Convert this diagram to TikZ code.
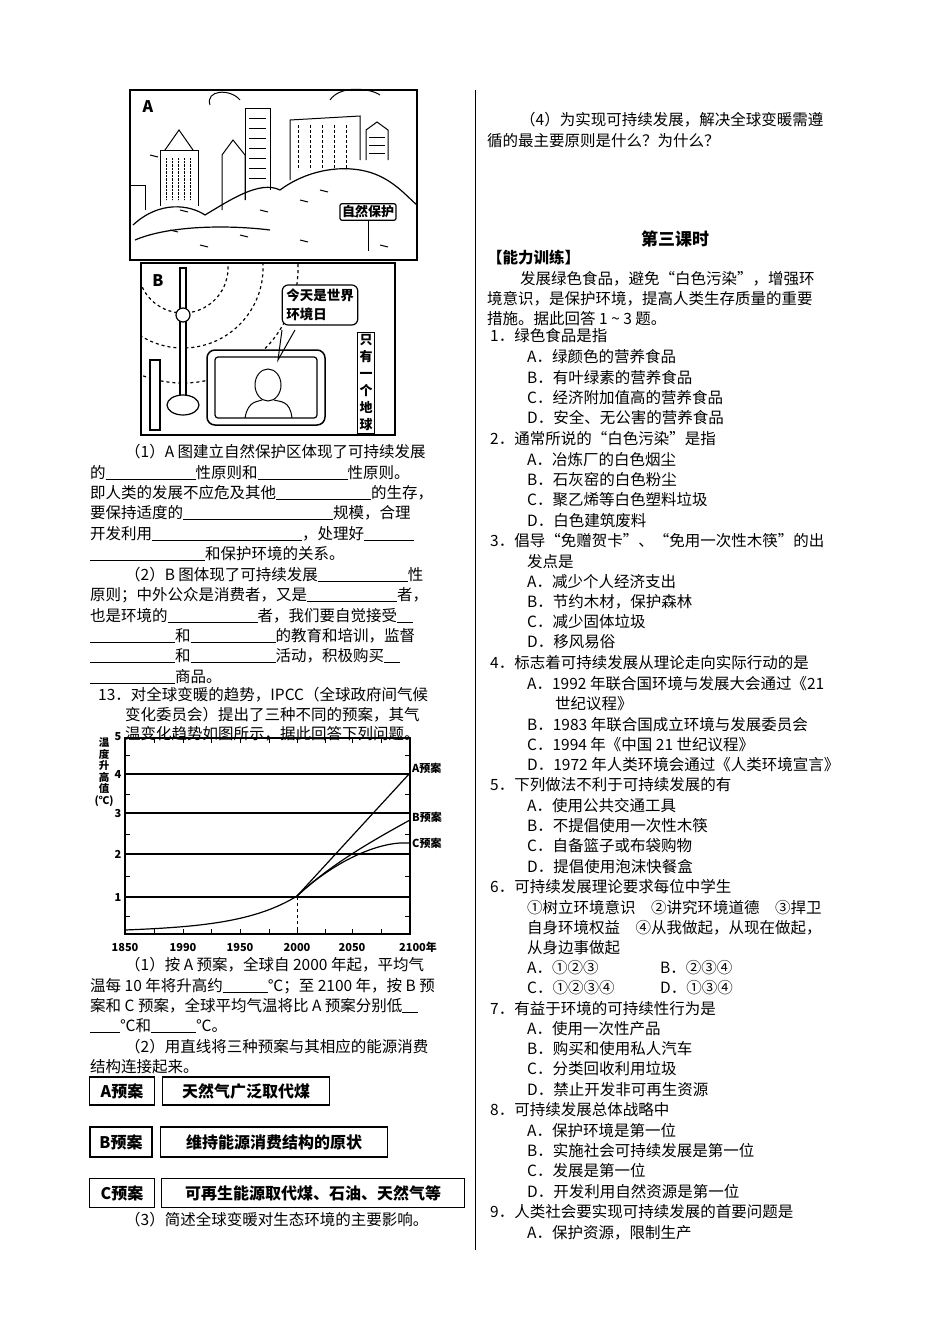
\documentclass[tikz,border=0pt]{standalone}
\usepackage{fontspec}
\setmainfont{Noto Sans CJK SC}
\newcounter{tl}
\newcommand{\T}[3]{\stepcounter{tl}\node[txt] (t\thetl) at (#1,#2+5) {#3};}
\newcommand{\bl}[1]{\rule[-2pt]{#1pt}{0.6pt}}
\begin{document}
\begin{tikzpicture}[x=1pt,y=-1pt,
 txt/.style={anchor=base west,inner sep=0pt,font=\fontsize{15.5}{18}\selectfont},
 sm/.style={font=\fontsize{11}{12}\selectfont\bfseries,inner sep=0pt},
 box/.style={draw,line width=1.2pt,inner sep=0pt,font=\fontsize{16}{18}\selectfont\bfseries},
 frame/.style={draw,line width=1.5pt}]
\useasboundingbox (0,0) rectangle (950,1344);
% divider
\draw (475,90) -- (475,1250);
% ===== Picture A =====
\draw[frame] (130,90) rectangle (417,260);
\node[font=\fontsize{16}{16}\selectfont\bfseries] (la) at (148,107) {A};
\draw[line width=1pt] (160,206) -- (160,150) -- (198,150) -- (198,206);
\draw[line width=1pt] (165,150) -- (179,130) -- (193,150);
\foreach \x in {166,172,178,184,190}{\draw[densely dotted] (\x,158) -- (\x,200);}
\draw[line width=1pt] (222,210) -- (222,155) -- (233,140) -- (245,155) -- (245,200);
\draw[line width=1pt] (245,200) -- (245,108) -- (270,108) -- (270,190);
\foreach \y in {118,128,138,148,158,168,178}{\draw (249,\y) -- (266,\y);}
\draw[line width=1pt] (290,180) -- (290,120) -- (360,116) -- (360,160);
\foreach \x in {298,310,322,334,346}{\draw[densely dashed] (\x,125) -- (\x,170);}
\draw[line width=1pt] (366,160) -- (366,130) -- (377,122) -- (388,130) -- (388,160);
\foreach \y in {137,145,153}{\draw (369,\y) -- (385,\y);}
\draw[line width=1pt] (130,185) -- (145,185) -- (145,210);
\draw[line width=1pt] (210,105) .. controls (205,90) and (230,88) .. (240,100);
\draw[line width=1pt] (330,100) .. controls (340,85) and (370,88) .. (380,95);
\draw[line width=1.2pt] (133,225) .. controls (160,200) and (190,205) .. (205,215) .. controls (230,200) and (260,180) .. (280,190) .. controls (300,175) and (330,165) .. (360,170) .. controls (390,175) and (405,195) .. (417,205);
\draw[line width=1.2pt] (135,240) .. controls (170,225) and (230,225) .. (270,230);
\foreach \x/\y in {150/155,170/230,260/210,300/200,320/190,350/215,380/245,200/245,240/235,300/240,180/210}{\draw[line width=1pt] (\x,\y) -- ++(8,2);}
\node[draw,line width=1.2pt,rounded corners=2pt,font=\fontsize{13}{14}\selectfont\bfseries,inner sep=2pt] (sign) at (368,212) {自然保护};
\draw[line width=1pt] (sign.south) -- ++(0,30);
% ===== Picture B =====
\draw[frame] (141,263) rectangle (395,435);
\node[font=\fontsize{16}{16}\selectfont\bfseries] (lb) at (158,281) {B};
\begin{scope}
\clip (141,263) rectangle (395,435);
\foreach \r in {45,80,115}{\draw[dashed,line width=1.2pt] (183,268) ++(170:\r) arc (170:-70:\r);}
\end{scope}
\draw[line width=1.2pt,fill=white] (180,268) -- (180,410) -- (186,410) -- (186,268) -- cycle;
\draw[line width=1.2pt,fill=white] (183,315) circle (7);
\draw[line width=1.2pt,fill=white] (183,405) ellipse (16 and 10);
\draw[line width=1.2pt,fill=white] (150,360) -- (150,430) -- (160,430) -- (160,360) -- cycle;
\draw[line width=1.5pt,rounded corners=8pt,fill=white] (207,350) rectangle (325,425);
\draw[line width=1.2pt,rounded corners=3pt] (215,357) rectangle (317,418);
\draw[line width=1pt] (268,385) ellipse (13 and 16);
\draw[line width=1pt] (245,418) .. controls (248,400) and (258,402) .. (262,400) (274,400) .. controls (280,402) and (290,400) .. (292,418);
\node[draw,line width=1.2pt,rounded corners=6pt,align=left,font=\fontsize{13.5}{19}\selectfont\bfseries,inner sep=4pt,fill=white] (bub) at (320,305) {今天是世界\\环境日};
\draw[line width=1pt] (282,330) -- (278,360) -- (295,330);
\node[draw,line width=1.2pt,align=center,font=\fontsize{13}{17}\selectfont\bfseries,inner sep=2pt,fill=white] (earth) at (366,383) {只\\有\\一\\个\\地\\球};
% ===== left text =====
\T{125}{452}{（1）A 图建立自然保护区体现了可持续发展}
\T{90}{473}{的\bl{90}性原则和\bl{90}性原则。}
\T{90}{493}{即人类的发展不应危及其他\bl{95}的生存，}
\T{90}{513}{要保持适度的\bl{150}规模，合理}
\T{90}{534}{开发利用\bl{150}，处理好\bl{50}}
\T{90}{554}{\bl{115}和保护环境的关系。}
\T{125}{575}{（2）B 图体现了可持续发展\bl{90}性}
\T{90}{595}{原则；中外公众是消费者，又是\bl{90}者，}
\T{90}{616}{也是环境的\bl{90}者，我们要自觉接受\bl{16}}
\T{90}{636}{\bl{85}和\bl{85}的教育和培训，监督}
\T{90}{656}{\bl{85}和\bl{85}活动，积极购买\bl{16}}
\T{90}{677}{\bl{85}商品。}
\T{98}{695}{13．对全球变暖的趋势，IPCC（全球政府间气候}
\T{125}{715}{变化委员会）提出了三种不同的预案，其气}
\T{125}{734}{温变化趋势如图所示，据此回答下列问题。}
% ===== chart =====
\draw[line width=1.2pt] (125,738) rectangle (410,934);
\foreach \v/\yy in {4/774,3/813,2/854,1/897}{\draw[line width=1.2pt] (125,\yy) -- (410,\yy); \node[sm] (n\v) at (118,\yy) {\v};}
\node[sm] (n5) at (118,737) {5};
\foreach \yy in {755,794,834,876,916}{\draw (125,\yy) -- (130,\yy) (410,\yy) -- (405,\yy);}
\foreach \xx in {154,183,211,240,269,297,325,352,381}{\draw (\xx,738) -- (\xx,743) (\xx,934) -- (\xx,929);}
\node[sm,align=center,font=\fontsize{10.5}{11.5}\selectfont\bfseries] (ylab) at (104,772) {温\\度\\升\\高\\值\\(℃)};
\draw[dashed,line width=1pt] (297,897) -- (297,934);
\draw[line width=1.2pt] (125,930) .. controls (200,927) and (255,922) .. (297,896);
\draw[line width=1.2pt] (297,896) -- (410,773);
\draw[line width=1.2pt] (297,896) .. controls (330,865) and (370,842) .. (410,820);
\draw[line width=1.2pt] (297,896) .. controls (330,865) and (370,845) .. (400,843) -- (410,843);
\node[sm,anchor=west] (pa) at (412,768) {A预案};
\node[sm,anchor=west] (pb) at (412,817) {B预案};
\node[sm,anchor=west] (pc) at (412,843) {C预案};
\foreach \xx/\ll in {125/1850,183/1990,240/1950,297/2000,352/2050}{\node[sm] at (\xx,947) {\ll};}
\node[sm] (yr) at (418,947) {2100年};
\T{125}{965}{（1）按 A 预案，全球自 2000 年起，平均气}
\T{90}{986}{温每 10 年将升高约\bl{45}℃；至 2100 年，按 B 预}
\T{90}{1006}{案和 C 预案，全球平均气温将比 A 预案分别低\bl{16}}
\T{90}{1026}{\bl{30}℃和\bl{45}℃。}
\T{125}{1047}{（2）用直线将三种预案与其相应的能源消费}
\T{90}{1067}{结构连接起来。}
\node[box,minimum width=65pt,minimum height=28pt] (ba) at (122,1091) {A预案};
\node[box,minimum width=167pt,minimum height=28pt] (ea) at (246,1091) {天然气广泛取代煤};
\node[box,minimum width=62pt,minimum height=30pt] (bb) at (121,1142) {B预案};
\node[box,minimum width=227pt,minimum height=30pt] (eb) at (274,1142) {维持能源消费结构的原状};
\node[box,minimum width=65pt,minimum height=29pt] (bc) at (122,1193) {C预案};
\node[box,minimum width=303pt,minimum height=29pt] (ec) at (313,1193) {可再生能源取代煤、石油、天然气等};
\T{125}{1220}{（3）简述全球变暖对生态环境的主要影响。}
% ===== right text =====
\T{520}{120}{（4）为实现可持续发展，解决全球变暖需遵}
\T{487}{141}{循的最主要原则是什么？为什么？}
\node[font=\fontsize{17}{18}\selectfont\bfseries] (title) at (675,239) {第三课时};
\T{487}{258}{\bfseries【能力训练】}
\T{520}{279}{发展绿色食品，避免“白色污染”，增强环}
\T{487}{299}{境意识，是保护环境，提高人类生存质量的重要}
\T{487}{319}{措施。据此回答 1 \textasciitilde{} 3 题。}
\T{490}{336}{1．绿色食品是指}
\T{527}{357}{A．绿颜色的营养食品}
\T{527}{378}{B．有叶绿素的营养食品}
\T{527}{398}{C．经济附加值高的营养食品}
\T{527}{418}{D．安全、无公害的营养食品}
\T{490}{439}{2．通常所说的“白色污染”是指}
\T{527}{460}{A．冶炼厂的白色烟尘}
\T{527}{480}{B．石灰窑的白色粉尘}
\T{527}{500}{C．聚乙烯等白色塑料垃圾}
\T{527}{521}{D．白色建筑废料}
\T{490}{541}{3．倡导“免赠贺卡”、“免用一次性木筷”的出}
\T{527}{562}{发点是}
\T{527}{582}{A．减少个人经济支出}
\T{527}{602}{B．节约木材，保护森林}
\T{527}{622}{C．减少固体垃圾}
\T{527}{642}{D．移风易俗}
\T{490}{663}{4．标志着可持续发展从理论走向实际行动的是}
\T{527}{684}{A．1992 年联合国环境与发展大会通过《21}
\T{555}{704}{世纪议程》}
\T{527}{725}{B．1983 年联合国成立环境与发展委员会}
\T{527}{745}{C．1994 年《中国 21 世纪议程》}
\T{527}{765}{D．1972 年人类环境会通过《人类环境宣言》}
\T{490}{785}{5．下列做法不利于可持续发展的有}
\T{527}{806}{A．使用公共交通工具}
\T{527}{826}{B．不提倡使用一次性木筷}
\T{527}{846}{C．自备篮子或布袋购物}
\T{527}{867}{D．提倡使用泡沫快餐盒}
\T{490}{887}{6．可持续发展理论要求每位中学生}
\T{527}{908}{①树立环境意识\quad ②讲究环境道德\quad ③捍卫}
\T{527}{928}{自身环境权益\quad ④从我做起，从现在做起，}
\T{527}{948}{从身边事做起}
\T{527}{968}{A．①②③}
\T{660}{968}{B．②③④}
\T{527}{988}{C．①②③④}
\T{660}{988}{D．①③④}
\T{490}{1009}{7．有益于环境的可持续性行为是}
\T{527}{1029}{A．使用一次性产品}
\T{527}{1049}{B．购买和使用私人汽车}
\T{527}{1069}{C．分类回收利用垃圾}
\T{527}{1090}{D．禁止开发非可再生资源}
\T{490}{1110}{8．可持续发展总体战略中}
\T{527}{1131}{A．保护环境是第一位}
\T{527}{1151}{B．实施社会可持续发展是第一位}
\T{527}{1171}{C．发展是第一位}
\T{527}{1192}{D．开发利用自然资源是第一位}
\T{490}{1212}{9．人类社会要实现可持续发展的首要问题是}
\T{527}{1233}{A．保护资源，限制生产}
\end{tikzpicture}
\end{document}
